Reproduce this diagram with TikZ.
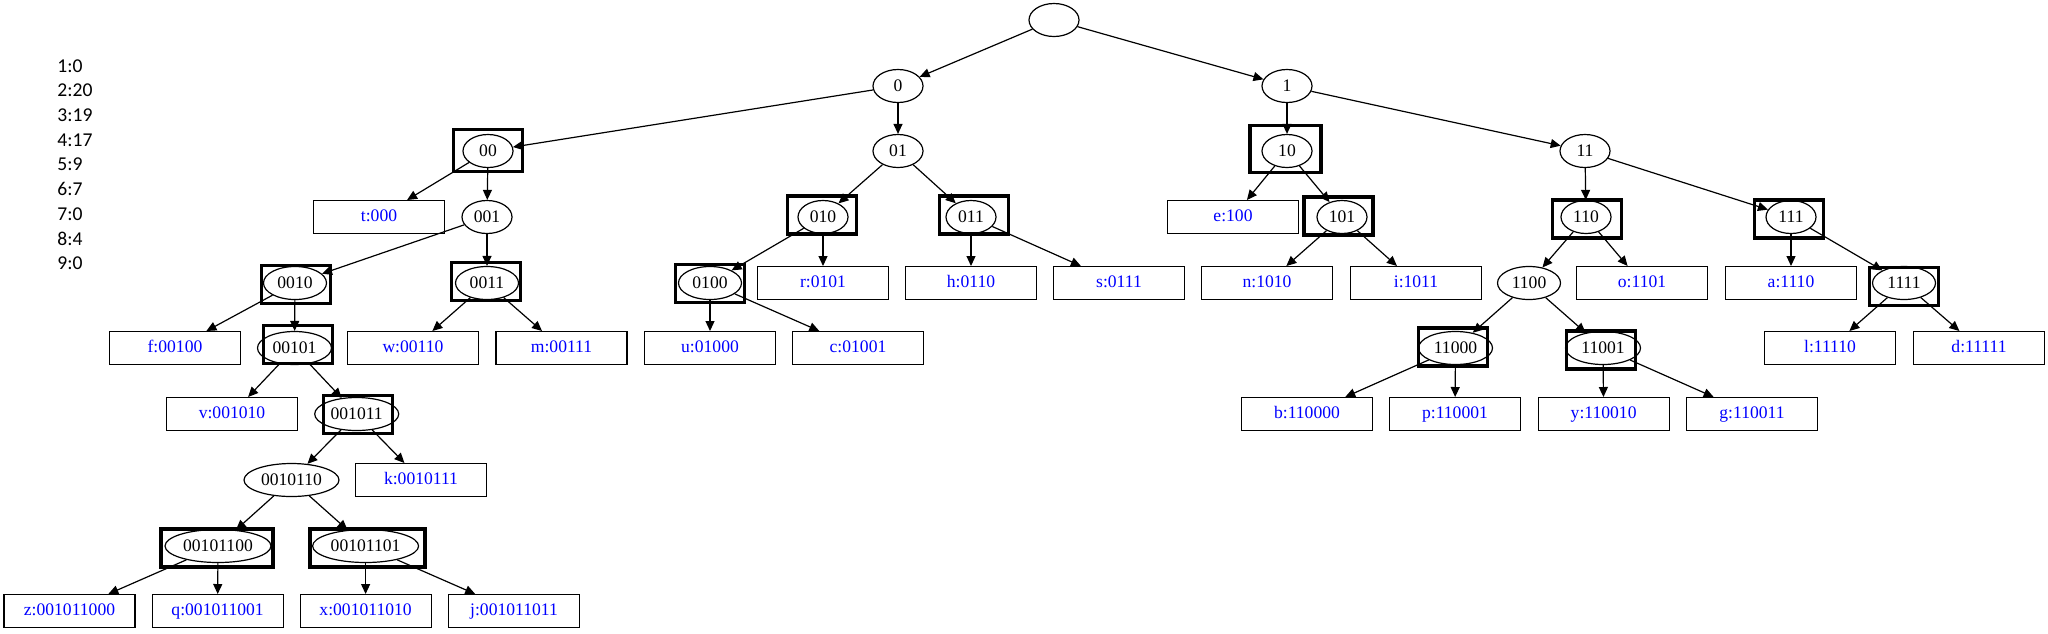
\documentclass[tikz,border=0pt]{standalone}
\usepackage{fontspec}
\setmainfont{Liberation Serif}
\newfontfamily\legfont{Carlito}
\usetikzlibrary{arrows.meta,shapes.geometric}
\newcommand\codefont{\fontsize{8.8pt}{10pt}\selectfont}
\newcommand\countfont{\legfont\fontsize{9.8pt}{12pt}\selectfont}

\begin{document}
\begin{tikzpicture}[x=0.5pt,y=-0.5pt,
  code/.style={ellipse, draw, line width=0.6pt, inner sep=0pt, minimum width=25pt, minimum height=16.5pt, font=\codefont},
  leaf/.style={rectangle, draw, line width=0.6pt, inner sep=0pt, minimum width=65.5pt, minimum height=16.4pt, text=blue, font=\codefont, text height=6.2pt, text depth=1.8pt},
  marked/.style={rectangle, draw, line width=1.7pt, inner sep=0pt, minimum width=34.5pt, minimum height=19pt},
  count/.style={anchor=west, inner sep=0pt, font=\countfont},
  link/.style={-{Triangle[length=5pt,width=4.5pt]}, line width=0.6pt}
]
\useasboundingbox (0,0) rectangle (2048,633);

% counts
\node[count] (c1) at (57,66) {1:0};
\node[count] (c2) at (57,90.7) {2:20};
\node[count] (c3) at (57,115.3) {3:19};
\node[count] (c4) at (57,140) {4:17};
\node[count] (c5) at (57,164.7) {5:9};
\node[count] (c6) at (57,189.3) {6:7};
\node[count] (c7) at (57,214) {7:0};
\node[count] (c8) at (57,238.7) {8:4};
\node[count] (c9) at (57,263.3) {9:0};

% bold frames
\node[marked, minimum height=21pt] (b00) at (488,150.7) {};
\node[marked, minimum width=35.5pt, minimum height=23.5pt] (b10) at (1285.5,149) {};
\node[marked] (b010) at (822,215) {};
\node[marked] (b011) at (974,215) {};
\node[marked] (b101) at (1338.5,216) {};
\node[marked] (b110) at (1587,219) {};
\node[marked] (b111) at (1789,219) {};
\node[marked] (b0010) at (296,284.5) {};
\node[marked] (b0011) at (486,281.5) {};
\node[marked] (b0100) at (710,283.3) {};
\node[marked] (b1111) at (1904,286.5) {};
\node[marked] (b00101) at (298,344.5) {};
\node[marked] (b11000) at (1453,347) {};
\node[marked] (b11001) at (1601,350) {};
\node[marked] (b001011) at (358,414.5) {};
\node[marked, minimum width=56pt, line width=2pt] (b00101100) at (217.4,548) {};
\node[marked, minimum width=57.5pt, line width=2pt] (b00101101) at (367,548) {};

% inner codes
\node[code] (root) at (1054,20) {};
\node[code] (n0) at (898,86) {0};
\node[code] (n1) at (1287,86) {1};
\node[code] (n00) at (488,151) {00};
\node[code] (n01) at (898,151) {01};
\node[code] (n10) at (1287,151) {10};
\node[code] (n11) at (1585,151) {11};
\node[code] (n001) at (487,217) {001};
\node[code] (n010) at (823,217) {010};
\node[code] (n011) at (971,217) {011};
\node[code] (n101) at (1342,217) {101};
\node[code] (n110) at (1586,217) {110};
\node[code] (n111) at (1791,217) {111};
\node[code, minimum width=31.5pt] (n0010) at (295,283) {0010};
\node[code, minimum width=31.5pt] (n0011) at (487,283) {0011};
\node[code, minimum width=31.5pt] (n0100) at (710,283) {0100};
\node[code, minimum width=31.5pt] (n1100) at (1529,283) {1100};
\node[code, minimum width=31.5pt] (n1111) at (1904,283) {1111};
\node[code, minimum width=37pt] (n00101) at (294.5,348) {00101};
\node[code, minimum width=37pt] (n11000) at (1455.5,348) {11000};
\node[code, minimum width=37.5pt] (n11001) at (1603,348) {11001};
\node[code, minimum width=42pt] (n001011) at (356.7,414) {001011};
\node[code, minimum width=47.5pt] (n0010110) at (291.5,480) {0010110};
\node[code, minimum width=53pt] (n00101100) at (218,546) {00101100};
\node[code, minimum width=53pt] (n00101101) at (365.6,546) {00101101};

% leaves
\node[leaf] (t) at (379,217) {t:000};
\node[leaf] (e) at (1233,217) {e:100};
\node[leaf] (r) at (823,283) {r:0101};
\node[leaf] (h) at (971,283) {h:0110};
\node[leaf] (s) at (1119,283) {s:0111};
\node[leaf] (n) at (1267,283) {n:1010};
\node[leaf] (i) at (1416,283) {i:1011};
\node[leaf] (o) at (1642,283) {o:1101};
\node[leaf] (a) at (1791,283) {a:1110};
\node[leaf] (f) at (175,348) {f:00100};
\node[leaf] (w) at (413,348) {w:00110};
\node[leaf] (m) at (561.5,348) {m:00111};
\node[leaf] (u) at (710,348) {u:01000};
\node[leaf] (c) at (858,348) {c:01001};
\node[leaf] (l) at (1830,348) {l:11110};
\node[leaf] (d) at (1979,348) {d:11111};
\node[leaf] (v) at (232,414) {v:001010};
\node[leaf] (b) at (1307,414) {b:110000};
\node[leaf] (p) at (1455,414) {p:110001};
\node[leaf] (y) at (1603.6,414) {y:110010};
\node[leaf] (g) at (1752,414) {g:110011};
\node[leaf] (k) at (421,480) {k:0010111};
\node[leaf] (z) at (69.5,611) {z:001011000};
\node[leaf] (q) at (217.6,611) {q:001011001};
\node[leaf] (x) at (365.6,611) {x:001011010};
\node[leaf] (j) at (514,611) {j:001011011};

% edges
\draw[link] (root) -- (n0);
\draw[link] (root) -- (n1);
\draw[link] (n0) -- (n00);
\draw[link] (n0) -- (n01);
\draw[link] (n1) -- (n10);
\draw[link] (n1) -- (n11);
\draw[link] (n00) -- (t);
\draw[link] (n00) -- (n001);
\draw[link] (n01) -- (n010);
\draw[link] (n01) -- (n011);
\draw[link] (n10) -- (e);
\draw[link] (n10) -- (n101);
\draw[link] (n11) -- (n110);
\draw[link] (n11) -- (n111);
\draw[link] (n001) -- (n0010);
\draw[link] (n001) -- (n0011);
\draw[link] (n010) -- (n0100);
\draw[link] (n010) -- (r);
\draw[link] (n011) -- (h);
\draw[link] (n011) -- (s);
\draw[link] (n101) -- (n);
\draw[link] (n101) -- (i);
\draw[link] (n110) -- (n1100);
\draw[link] (n110) -- (o);
\draw[link] (n111) -- (a);
\draw[link] (n111) -- (n1111);
\draw[link] (n0010) -- (f);
\draw[link] (n0010) -- (n00101);
\draw[link] (n0011) -- (w);
\draw[link] (n0011) -- (m);
\draw[link] (n0100) -- (u);
\draw[link] (n0100) -- (c);
\draw[link] (n1100) -- (n11000);
\draw[link] (n1100) -- (n11001);
\draw[link] (n1111) -- (l);
\draw[link] (n1111) -- (d);
\draw[link] (n00101) -- (v);
\draw[link] (n00101) -- (n001011);
\draw[link] (n11000) -- (b);
\draw[link] (n11000) -- (p);
\draw[link] (n11001) -- (y);
\draw[link] (n11001) -- (g);
\draw[link] (n001011) -- (n0010110);
\draw[link] (n001011) -- (k);
\draw[link] (n0010110) -- (n00101100);
\draw[link] (n0010110) -- (n00101101);
\draw[link] (n00101100) -- (z);
\draw[link] (n00101100) -- (q);
\draw[link] (n00101101) -- (x);
\draw[link] (n00101101) -- (j);

\end{tikzpicture}
\end{document}
